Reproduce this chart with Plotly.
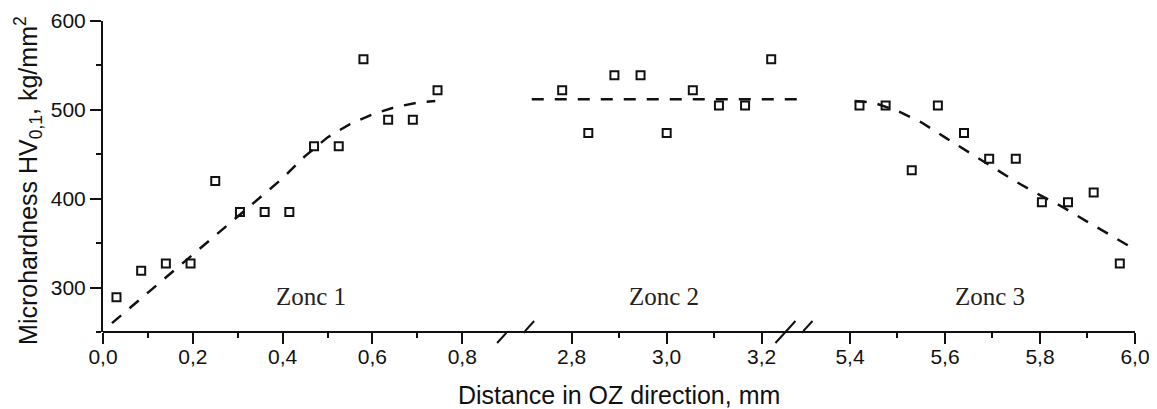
import plotly.graph_objects as go

# ---------------- data ----------------
zone1_x = [0.03, 0.085, 0.14, 0.195, 0.25, 0.305, 0.36, 0.415, 0.47, 0.525, 0.58, 0.635, 0.69, 0.745]
zone1_y = [289, 319, 327, 327, 420, 385, 385, 385, 459, 459, 557, 489, 489, 522]
fit1_x = [0.02, 0.1, 0.2, 0.3, 0.4, 0.45, 0.5, 0.55, 0.6, 0.65, 0.7, 0.74]
fit1_y = [260, 294, 337, 380, 423, 448, 469, 484, 495, 503, 508, 510]

zone2_x = [2.78, 2.835, 2.89, 2.945, 3.0, 3.055, 3.11, 3.165, 3.22]
zone2_y = [522, 474, 539, 539, 474, 522, 505, 505, 557]
fit2_x = [2.716, 3.284]
fit2_y = [512, 512]

zone3_x = [5.42, 5.475, 5.53, 5.585, 5.64, 5.693, 5.749, 5.804, 5.859, 5.913, 5.968]
zone3_y = [505, 505, 432, 505, 474, 445, 445, 396, 396, 407, 327]
fit3_x = [5.41, 5.45, 5.5, 5.55, 5.6, 5.65, 5.7, 5.75, 5.8, 5.85, 5.9, 5.95, 5.99]
fit3_y = [510, 508, 499, 486, 469, 452, 436, 419, 404, 390, 374, 358, 346]

seg1_ticks = [0.0, 0.2, 0.4, 0.6, 0.8]
seg2_ticks = [2.8, 3.0, 3.2]
seg3_ticks = [5.4, 5.6, 5.8, 6.0]
seg1_minor = [0.1, 0.3, 0.5, 0.7]
seg2_minor = [2.9, 3.1]
seg3_minor = [5.5, 5.7, 5.9]
y_ticks = [300, 400, 500, 600]

zone_labels = ["Zonc 1", "Zonc 2", "Zonc 3"]

x_title = "Distance in OZ direction, mm"
y_title = "Microhardness HV<sub>0,1</sub>, kg/mm<sup>2</sup>"

# ---------------- figure ----------------
INK = "#111111"
TICKFONT = dict(family="Liberation Sans, Arial, sans-serif", size=21, color=INK)

fig = go.Figure()

marker_style = dict(symbol="square-open", size=8, color=INK, line=dict(width=2, color=INK))
line_style = dict(color=INK, width=2.5, dash="12px,11px")

for xs, ys, fx, fy, ax in [
    (zone1_x, zone1_y, fit1_x, fit1_y, "x"),
    (zone2_x, zone2_y, fit2_x, fit2_y, "x2"),
    (zone3_x, zone3_y, fit3_x, fit3_y, "x3"),
]:
    fig.add_trace(go.Scatter(x=fx, y=fy, mode="lines", line=line_style,
                             xaxis=ax, yaxis="y", showlegend=False, hoverinfo="skip"))
    fig.add_trace(go.Scatter(x=xs, y=ys, mode="markers", marker=marker_style,
                             xaxis=ax, yaxis="y", showlegend=False))


def xaxis(domain, rng, ticks, minor):
    return dict(
        domain=domain, range=rng, anchor="y", automargin=False,
        tickmode="array", tickvals=ticks, tickformat=".1f",
        ticks="outside", ticklen=11, tickwidth=2, tickcolor=INK,
        ticklabelstandoff=-5,
        minor=dict(tickmode="array", tickvals=minor, ticks="outside",
                   ticklen=5, tickwidth=2, tickcolor=INK),
        showline=False, showgrid=False, zeroline=False,
        tickfont=TICKFONT,
    )


# the page body has an 8px default margin, so the figure is sized to fit inside it
fig.update_layout(
    width=1149, height=401,
    margin=dict(l=95, r=22, t=13, b=77, autoexpand=False),
    paper_bgcolor="white", plot_bgcolor="white",
    separators=", ",
    xaxis=xaxis([0.0, 0.3916], [0.0, 0.9], seg1_ticks, seg1_minor),
    xaxis2=xaxis([0.4081, 0.6774], [2.7, 3.285], seg2_ticks, seg2_minor),
    xaxis3=xaxis([0.6778, 1.0], [5.3, 6.0], seg3_ticks, seg3_minor),
    yaxis=dict(
        range=[250, 600], tickmode="array", tickvals=y_ticks, automargin=False,
        ticks="outside", ticklen=11, tickwidth=2, tickcolor=INK,
        minor=dict(dtick=50, tick0=250, ticks="outside", ticklen=5, tickwidth=2, tickcolor=INK),
        showline=True, linewidth=2, linecolor=INK,
        showgrid=False, zeroline=False, tickfont=TICKFONT,
    ),
)

# continuous x axis line across all segments
fig.add_shape(type="line", xref="paper", yref="paper", x0=0, x1=1, y0=0, y1=0,
              line=dict(color=INK, width=2))

# break marks
for ref, pos in [("x", 0.9), ("x2", 2.7), ("x2", 3.25), ("x3", 5.3)]:
    fig.add_shape(type="line", xref=ref, xsizemode="pixel", xanchor=pos, x0=-10, x1=10,
                  yref="paper", ysizemode="pixel", yanchor=0, y0=-11, y1=11,
                  line=dict(color=INK, width=2))

# zone labels
for ref, xv, label in [("x", 0.463, zone_labels[0]), ("x2", 2.995, zone_labels[1]), ("x3", 5.695, zone_labels[2])]:
    fig.add_annotation(xref=ref, yref="y", x=xv, y=290, text=label, showarrow=False,
                       font=dict(family="Liberation Serif, Times New Roman, serif", size=25, color="#222222"))

# axis titles
fig.add_annotation(xref="paper", yref="paper", x=0.5, y=-0.2026, text=x_title,
                   showarrow=False, yanchor="middle",
                   font=dict(family="Liberation Sans, Arial, sans-serif", size=25, color=INK))
fig.add_annotation(xref="paper", yref="paper", x=-0.0727, y=0.489, text=y_title,
                   showarrow=False, textangle=-90, xanchor="center", yanchor="middle",
                   font=dict(family="Liberation Sans, Arial, sans-serif", size=25, color=INK))

fig.write_html("out.html")
